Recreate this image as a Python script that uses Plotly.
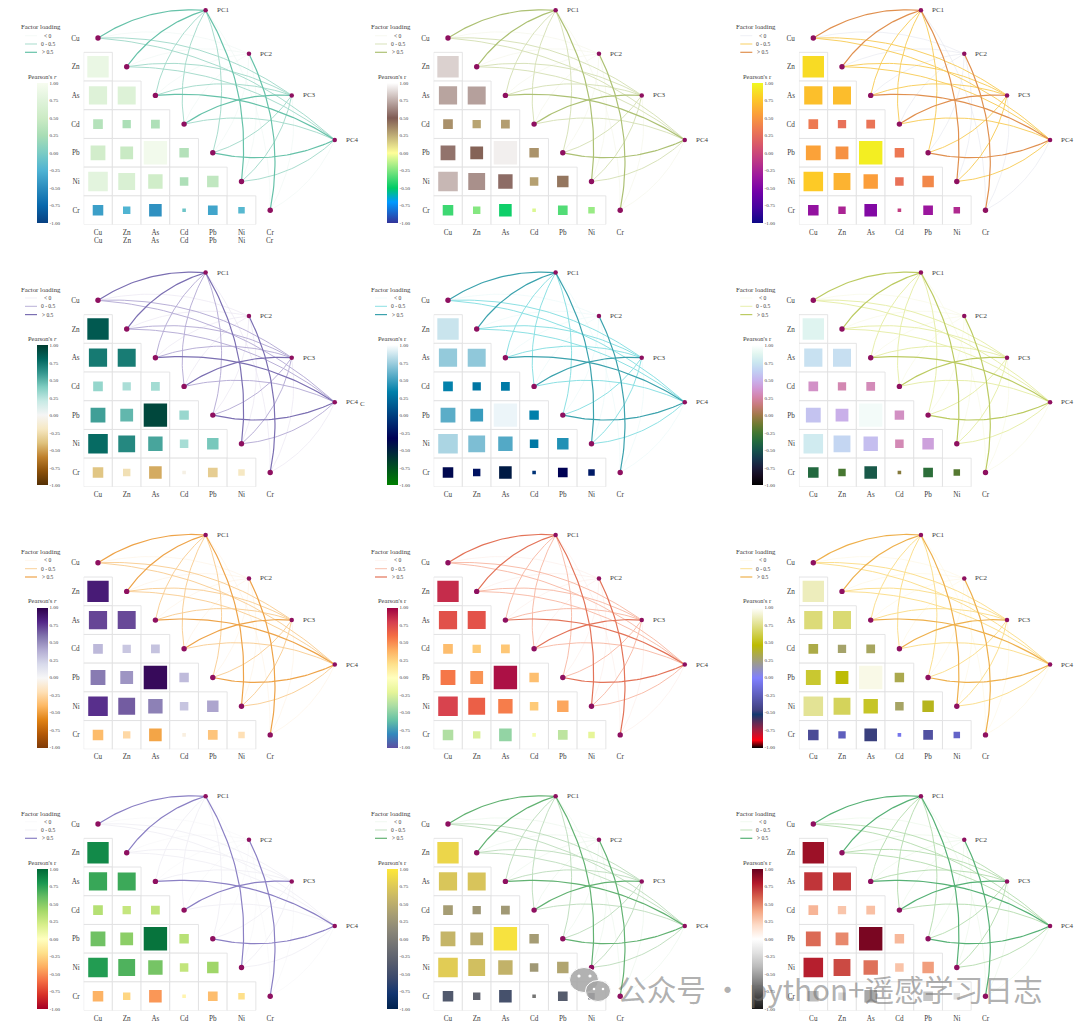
import math
import plotly.graph_objects as go

W, H = 1080, 1029
FONT = "Liberation Serif"
TXT = "#3c3c3c"

elements = ["Cu", "Zn", "As", "Cd", "Pb", "Ni", "Cr"]
components = ["PC1", "PC2", "PC3", "PC4"]
# positions of the component nodes in cell units
pc_x = [3.75, 5.26, 6.75, 8.25]
pc_y = [-0.965, 0.55, 2.0, 3.55]

# lower-triangle Pearson's r: rows Zn..Cr, columns Cu..
r_zn = [0.86]
r_as = [0.72, 0.71]
r_cd = [0.34, 0.28, 0.30]
r_pb = [0.57, 0.48, 0.95, 0.33]
r_ni = [0.78, 0.66, 0.55, 0.29, 0.42]
r_cr = [-0.38, -0.24, -0.47, -0.07, -0.34, -0.20]
r_rows = [r_zn, r_as, r_cd, r_pb, r_ni, r_cr]

# factor loadings: rows are elements, columns PC1..PC4
load_cu = [0.78, -0.10, 0.30, 0.25]
load_zn = [0.72, -0.12, 0.30, 0.20]
load_as = [0.35, -0.08, 0.28, 0.62]
load_cd = [0.25, -0.05, 0.66, 0.28]
load_pb = [0.30, -0.10, 0.25, 0.75]
load_ni = [0.60, -0.12, 0.32, 0.28]
load_cr = [-0.20, 0.82, -0.15, -0.10]
loadings = [load_cu, load_zn, load_as, load_cd, load_pb, load_ni, load_cr]

legend_labels = ["< 0", "0 - 0.5", "> 0.5"]
cb_ticks = [-1, -0.75, -0.5, -0.25, 0, 0.25, 0.5, 0.75, 1]
cb_text = ["-1.00", "-0.75", "-0.50", "-0.25", "0.00", "0.25", "0.50", "0.75", "1.00"]

col_cu = [98, 448, 813.3]
row_cu = [38, 300.3, 562.7, 824]
CELL = 28.7


def cubehelix(n=17, s=0.5, rot=-1.5, h=1.0):
    out = []
    for i in range(n):
        x = i / (n - 1)
        a = h * x * (1 - x) / 2
        phi = 2 * math.pi * (s / 3 + rot * x)
        c, d = math.cos(phi), math.sin(phi)
        r = x + a * (-0.14861 * c + 1.78277 * d)
        g = x + a * (-0.29227 * c - 0.90649 * d)
        b = x + a * (1.97294 * c)
        v = [max(0, min(1, t)) for t in (r, g, b)]
        out.append([x, "rgb(%d,%d,%d)" % tuple(round(t * 255) for t in v)])
    return out


terrain = [[0, "#333399"], [0.15, "#0099ff"], [0.25, "#00cc66"], [0.5, "#ffff99"],
           [0.75, "#805c54"], [1, "#ffffff"]]
ocean = [[0, "#008000"], [1 / 3, "#000055"], [2 / 3, "#0080aa"], [1, "#ffffff"]]
stern = [[0, "#000000"], [0.055, "#ff0010"], [0.13, "#a02040"], [0.24, "#143a70"],
         [0.27, "#404080"], [0.5, "#8080ff"], [0.62, "#a09e80"], [0.735, "#bcbb00"],
         [1, "#ffffff"]]

scales = ["gnbu_r", terrain, "plasma", "brbg", ocean, cubehelix(),
          "puor", "spectral_r", stern, "rdylgn", "cividis", "rdgy_r"]
edge_colors = [
    ["#EEF6F3", "#A3DACA", "#66C2A9"], ["#F3F5E8", "#D6E0B6", "#ADC174"],
    ["#E4E6EE", "#F8CC5A", "#E0904F"], ["#E7E3F0", "#B5ACD5", "#7B6FB2"],
    ["#EAF8F8", "#86DEE2", "#3BA2AD"], ["#F6F8E2", "#E6EDA8", "#BCCB62"],
    ["#FDF1E2", "#F9CD94", "#EEA348"], ["#FCEDE8", "#F8B9A5", "#E37358"],
    ["#FEF7E0", "#FBDD8A", "#EEB04C"], ["#F7F6F9", "#F1F0F5", "#8B80C4"],
    ["#EAF5EA", "#BFDDBE", "#62B272"], ["#EAF6E6", "#B7DDB1", "#56B175"],
]
edge_widths = [0.6, 0.95, 1.2]
italic_r = {0, 3, 6}


def fx(px):
    return px / W


def fy(px):
    return 1 - px / H


def curve(x0, y0, x1, y1, sign, bend=0.17, n=40):
    # y is reversed on screen: (dy, -dx) is the left-hand normal of travel
    dx, dy = x1 - x0, y1 - y0
    cx = (x0 + x1) / 2 + sign * bend * dy
    cy = (y0 + y1) / 2 - sign * bend * dx
    xs, ys = [], []
    for i in range(n + 1):
        t = i / n
        xs.append((1 - t) ** 2 * x0 + 2 * t * (1 - t) * cx + t ** 2 * x1)
        ys.append((1 - t) ** 2 * y0 + 2 * t * (1 - t) * cy + t ** 2 * y1)
    return xs, ys


fig = go.Figure()
layout = {}
annotations = []
shapes = []

for p in range(12):
    row, col = p // 3, p % 3
    ax = "" if p == 0 else str(p + 1)
    xa, ya = "x" + ax, "y" + ax
    ca = "coloraxis" + ("" if p == 0 else str(p + 1))
    ox, oy = col_cu[col], row_cu[row]

    layout["xaxis" + ax] = dict(
        domain=[fx(ox - 0.5 * CELL), fx(ox + 262)], range=[-0.5, 262 / CELL], anchor=ya,
        tickmode="array", tickvals=list(range(7)), ticktext=elements, ticks="", showgrid=False,
        zeroline=False, showline=False, ticklabelstandoff=2,
        tickfont=dict(family=FONT, size=7.2, color=TXT), fixedrange=True)
    layout["yaxis" + ax] = dict(
        domain=[fy(oy + 6.5 * CELL), fy(oy - 1.25 * CELL)], range=[6.5, -1.25], anchor=xa,
        tickmode="array", tickvals=list(range(7)), ticktext=elements, ticks="", showgrid=False,
        zeroline=False, showline=False, ticklabelstandoff=3,
        tickfont=dict(family=FONT, size=7.2, color=TXT), fixedrange=True)
    layout[ca] = dict(
        colorscale=scales[p], cmin=-1, cmax=1,
        colorbar=dict(
            x=fx(ox - 61.3), xanchor="left", y=fy(oy + 45), yanchor="top",
            thickness=11, thicknessmode="pixels", len=140, lenmode="pixels",
            xpad=0, ypad=0, outlinewidth=0, ticks="", tickmode="array",
            tickvals=cb_ticks, ticktext=cb_text, ticklabelposition="outside",
            tickfont=dict(family=FONT, size=5, color=TXT)))

    # curved links, one trace per loading class
    groups = [([], []), ([], []), ([], [])]
    for i, row_load in enumerate(loadings):
        for k, v in enumerate(row_load):
            cls = 0 if v < 0 else (1 if v <= 0.5 else 2)
            xs, ys = curve(i, i, pc_x[k], pc_y[k], 1 if i <= 3 else -1)
            groups[cls][0].extend(xs + [None])
            groups[cls][1].extend(ys + [None])
    for cls in range(3):
        fig.add_trace(go.Scatter(
            x=groups[cls][0], y=groups[cls][1], mode="lines", xaxis=xa, yaxis=ya, showlegend=False,
            hoverinfo="skip", line=dict(color=edge_colors[p][cls], width=edge_widths[cls])))

    # cell frames and correlation squares
    cx, cy, cv = [], [], []
    for j, vals in enumerate(r_rows):
        for i, v in enumerate(vals):
            cx.append(i)
            cy.append(j + 1)
            cv.append(v)
    fig.add_trace(go.Scatter(
        x=cx, y=cy, mode="markers", xaxis=xa, yaxis=ya, showlegend=False, hoverinfo="skip",
        marker=dict(symbol="square", size=CELL, color="white", opacity=1,
                    line=dict(color="#DEDEE0", width=0.8))))
    fig.add_trace(go.Scatter(
        x=cx, y=cy, mode="markers", xaxis=xa, yaxis=ya, showlegend=False, text=cv,
        marker=dict(symbol="square", size=[2 + 22.5 * abs(v) for v in cv], color=cv, opacity=1,
                    coloraxis=ca, line=dict(width=0))))

    # nodes
    fig.add_trace(go.Scatter(
        x=list(range(7)), y=list(range(7)), mode="markers", xaxis=xa, yaxis=ya, showlegend=False,
        marker=dict(color="#8E1060", size=5.4, line=dict(width=0))))
    fig.add_trace(go.Scatter(
        x=pc_x, y=pc_y, mode="markers", xaxis=xa, yaxis=ya, showlegend=False,
        marker=dict(color="#8E1060", size=4.5, line=dict(width=0))))
    for k, name in enumerate(components):
        annotations.append(dict(x=pc_x[k], y=pc_y[k], xref=xa, yref=ya, text=name, showarrow=False,
                                xanchor="left", xshift=9, font=dict(family=FONT, size=7, color=TXT)))

    # hand-built legend for the loading classes
    def label(text, rx, ry, size=7):
        annotations.append(dict(x=fx(ox + rx), y=fy(oy + ry), xref="paper", yref="paper", text=text,
                                showarrow=False, xanchor="center", yanchor="middle",
                                font=dict(family=FONT, size=size, color=TXT)))

    label("Factor loading", -57, -11, 6.8)
    for cls, ry in enumerate([-2.3, 6.0, 14.3]):
        label(legend_labels[cls], -50.5, ry, 5.5)
        shapes.append(dict(type="line", xref="paper", yref="paper", x0=fx(ox - 73), x1=fx(ox - 61),
                           y0=fy(oy + ry), y1=fy(oy + ry),
                           line=dict(color=edge_colors[p][cls], width=edge_widths[cls])))
    label("Pearson's <i>r</i>" if p in italic_r else "Pearson's r", -56, 38, 6.5)

# leftover second tick row of the first panel
for i, name in enumerate(elements):
    annotations.append(dict(x=fx(98 + i * CELL), y=fy(241), xref="paper", yref="paper", text=name,
                            showarrow=False, xanchor="center", yanchor="middle",
                            font=dict(family=FONT, size=7.2, color=TXT)))
annotations.append(dict(x=fx(362), y=fy(404), xref="paper", yref="paper", text="C", showarrow=False,
                        xanchor="center", yanchor="middle", font=dict(family=FONT, size=7, color=TXT)))

# watermark
annotations.append(dict(x=fx(615), y=fy(988), xref="paper", yref="paper", xanchor="left", yanchor="middle",
                        showarrow=False, text="公众号 · python+遥感学习日志",
                        font=dict(family="Noto Sans CJK SC", size=29.7, color="rgba(110,110,110,0.55)")))
for (cx0, cy0, rx0, ry0) in [(584, 980, 14.5, 12.5), (598, 991, 12.5, 10.5)]:
    shapes.append(dict(type="circle", xref="paper", yref="paper", x0=fx(cx0 - rx0), x1=fx(cx0 + rx0),
                       y0=fy(cy0 - ry0), y1=fy(cy0 + ry0), layer="above",
                       fillcolor="rgba(165,165,165,0.85)", line=dict(color="white", width=1)))
for (ex, ey, er) in [(579, 976, 1.6), (590, 976, 1.6), (594, 989, 1.3), (603, 989, 1.3)]:
    shapes.append(dict(type="circle", xref="paper", yref="paper", x0=fx(ex - er), x1=fx(ex + er),
                       y0=fy(ey - er), y1=fy(ey + er), layer="above",
                       fillcolor="white", line=dict(width=0)))

fig.update_layout(
    width=W, height=H, margin=dict(l=0, r=0, t=0, b=0), paper_bgcolor="white", plot_bgcolor="rgba(0,0,0,0)",
    showlegend=False, annotations=annotations, shapes=shapes, font=dict(family=FONT), **layout)
fig.write_html("out.html", config={"displayModeBar": False},
               post_script="document.body.style.margin='0';")
